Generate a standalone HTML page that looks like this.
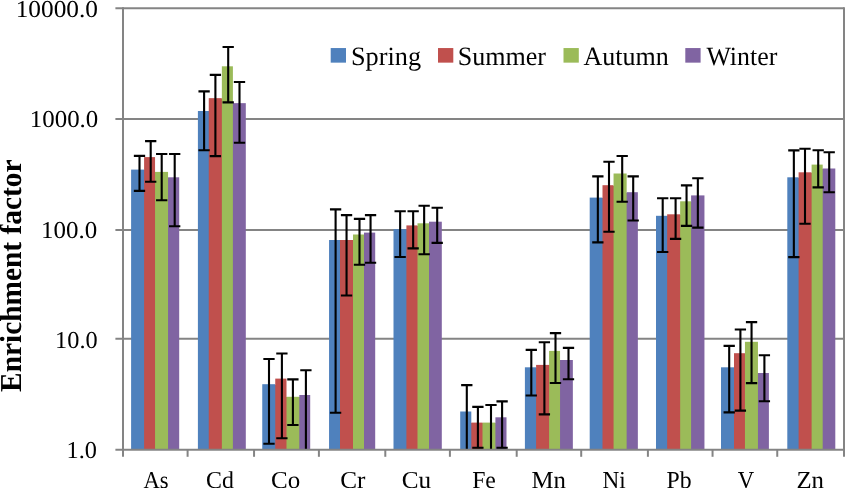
<!DOCTYPE html>
<html><head><meta charset="utf-8"><title>Enrichment factor chart</title>
<style>
html,body{margin:0;padding:0;background:#fff;}
body{width:845px;height:488px;overflow:hidden;position:relative;font-family:"Liberation Serif",serif;}
.wrap{position:absolute;left:0;top:0;width:845px;height:488px;will-change:transform;opacity:0.999;}
svg{display:block;}
.t{font-family:"Liberation Serif",serif;fill:#000;text-rendering:geometricPrecision;}
.b{font-family:"Liberation Serif",serif;font-weight:bold;fill:#000;text-rendering:geometricPrecision;}
</style></head><body>
<div class="wrap">
<svg width="845" height="488" viewBox="0 0 845 488">
<rect x="0" y="0" width="845" height="488" fill="#fff"/>
<g stroke="#848484" stroke-width="2.0" fill="none">
<line x1="115.40" y1="8.20" x2="844.00" y2="8.20"/>
<line x1="115.40" y1="118.95" x2="844.00" y2="118.95"/>
<line x1="115.40" y1="229.95" x2="844.00" y2="229.95"/>
<line x1="115.40" y1="338.75" x2="844.00" y2="338.75"/>
</g>
<rect x="144" y="170" width="1" height="279.70" fill="#4F81BD"/>
<rect x="155" y="172" width="1" height="277.70" fill="#C0504D"/>
<rect x="168" y="178" width="1" height="271.70" fill="#9BBB59"/>
<rect x="131.10" y="169.60" width="13.00" height="280.10" fill="#4F81BD"/>
<rect x="144.10" y="157.10" width="10.95" height="292.60" fill="#C0504D"/>
<rect x="155.05" y="171.90" width="13.00" height="277.80" fill="#9BBB59"/>
<rect x="168.05" y="177.30" width="11.15" height="272.40" fill="#8064A2"/>
<rect x="208" y="111" width="1" height="338.70" fill="#4F81BD"/>
<rect x="221" y="99" width="1" height="350.70" fill="#C0504D"/>
<rect x="232" y="104" width="1" height="345.70" fill="#9BBB59"/>
<rect x="197.90" y="111.00" width="10.85" height="338.70" fill="#4F81BD"/>
<rect x="208.75" y="98.15" width="13.10" height="351.55" fill="#C0504D"/>
<rect x="221.85" y="66.30" width="11.05" height="383.40" fill="#9BBB59"/>
<rect x="232.90" y="103.15" width="12.90" height="346.55" fill="#8064A2"/>
<rect x="275" y="385" width="1" height="64.70" fill="#4F81BD"/>
<rect x="286" y="397" width="1" height="52.70" fill="#C0504D"/>
<rect x="299" y="397" width="1" height="52.70" fill="#9BBB59"/>
<rect x="262.25" y="384.20" width="13.00" height="65.50" fill="#4F81BD"/>
<rect x="275.25" y="378.60" width="11.25" height="71.10" fill="#C0504D"/>
<rect x="286.50" y="396.80" width="12.80" height="52.90" fill="#9BBB59"/>
<rect x="299.30" y="395.00" width="10.90" height="54.70" fill="#8064A2"/>
<rect x="340" y="240" width="1" height="209.70" fill="#4F81BD"/>
<rect x="353" y="240" width="1" height="209.70" fill="#C0504D"/>
<rect x="364" y="235" width="1" height="214.70" fill="#9BBB59"/>
<rect x="329.05" y="240.00" width="10.95" height="209.70" fill="#4F81BD"/>
<rect x="340.00" y="240.00" width="13.00" height="209.70" fill="#C0504D"/>
<rect x="353.00" y="234.50" width="11.00" height="215.20" fill="#9BBB59"/>
<rect x="364.00" y="232.60" width="11.20" height="217.10" fill="#8064A2"/>
<rect x="406" y="230" width="1" height="219.70" fill="#4F81BD"/>
<rect x="417" y="226" width="1" height="223.70" fill="#C0504D"/>
<rect x="429" y="224" width="1" height="225.70" fill="#9BBB59"/>
<rect x="393.50" y="229.20" width="12.90" height="220.50" fill="#4F81BD"/>
<rect x="406.40" y="225.40" width="11.10" height="224.30" fill="#C0504D"/>
<rect x="417.50" y="223.30" width="11.50" height="226.40" fill="#9BBB59"/>
<rect x="429.00" y="221.70" width="12.80" height="228.00" fill="#8064A2"/>
<rect x="471" y="423" width="1" height="26.70" fill="#4F81BD"/>
<rect x="482" y="423" width="1" height="26.70" fill="#C0504D"/>
<rect x="495" y="423" width="1" height="26.70" fill="#9BBB59"/>
<rect x="460.20" y="411.50" width="11.10" height="38.20" fill="#4F81BD"/>
<rect x="471.30" y="422.60" width="11.20" height="27.10" fill="#C0504D"/>
<rect x="482.50" y="422.60" width="12.90" height="27.10" fill="#9BBB59"/>
<rect x="495.40" y="417.30" width="11.10" height="32.40" fill="#8064A2"/>
<rect x="536" y="368" width="1" height="81.70" fill="#4F81BD"/>
<rect x="549" y="365" width="1" height="84.70" fill="#C0504D"/>
<rect x="560" y="360" width="1" height="89.70" fill="#9BBB59"/>
<rect x="524.90" y="367.30" width="11.20" height="82.40" fill="#4F81BD"/>
<rect x="536.10" y="364.90" width="13.00" height="84.80" fill="#C0504D"/>
<rect x="549.10" y="350.90" width="10.95" height="98.80" fill="#9BBB59"/>
<rect x="560.05" y="360.00" width="12.80" height="89.70" fill="#8064A2"/>
<rect x="602" y="198" width="1" height="251.70" fill="#4F81BD"/>
<rect x="613" y="186" width="1" height="263.70" fill="#C0504D"/>
<rect x="626" y="193" width="1" height="256.70" fill="#9BBB59"/>
<rect x="589.70" y="197.60" width="12.80" height="252.10" fill="#4F81BD"/>
<rect x="602.50" y="185.20" width="11.05" height="264.50" fill="#C0504D"/>
<rect x="613.55" y="173.50" width="13.10" height="276.20" fill="#9BBB59"/>
<rect x="626.65" y="192.20" width="11.20" height="257.50" fill="#8064A2"/>
<rect x="667" y="216" width="1" height="233.70" fill="#4F81BD"/>
<rect x="680" y="215" width="1" height="234.70" fill="#C0504D"/>
<rect x="691" y="202" width="1" height="247.70" fill="#9BBB59"/>
<rect x="656.00" y="215.80" width="11.15" height="233.90" fill="#4F81BD"/>
<rect x="667.15" y="214.30" width="13.00" height="235.40" fill="#C0504D"/>
<rect x="680.15" y="201.30" width="10.95" height="248.40" fill="#9BBB59"/>
<rect x="691.10" y="195.40" width="13.35" height="254.30" fill="#8064A2"/>
<rect x="734" y="368" width="1" height="81.70" fill="#4F81BD"/>
<rect x="744" y="354" width="1" height="95.70" fill="#C0504D"/>
<rect x="757" y="373" width="1" height="76.70" fill="#9BBB59"/>
<rect x="721.00" y="367.30" width="13.00" height="82.40" fill="#4F81BD"/>
<rect x="734.00" y="353.20" width="10.95" height="96.50" fill="#C0504D"/>
<rect x="744.95" y="341.80" width="13.00" height="107.90" fill="#9BBB59"/>
<rect x="757.95" y="373.00" width="10.95" height="76.70" fill="#8064A2"/>
<rect x="798" y="178" width="1" height="271.70" fill="#4F81BD"/>
<rect x="811" y="173" width="1" height="276.70" fill="#C0504D"/>
<rect x="822" y="169" width="1" height="280.70" fill="#9BBB59"/>
<rect x="787.30" y="177.30" width="11.30" height="272.40" fill="#4F81BD"/>
<rect x="798.60" y="172.30" width="13.00" height="277.40" fill="#C0504D"/>
<rect x="811.60" y="164.60" width="11.10" height="285.10" fill="#9BBB59"/>
<rect x="822.70" y="168.50" width="12.60" height="281.20" fill="#8064A2"/>
<g stroke="#848484" stroke-width="2.0" fill="none">
<line x1="123.00" y1="7.20" x2="123.00" y2="456.80"/>
<line x1="844.00" y1="7.20" x2="844.00" y2="456.80"/>
<line x1="115.40" y1="449.70" x2="844.00" y2="449.70"/>
<line x1="187.60" y1="449.70" x2="187.60" y2="456.80"/>
<line x1="254.05" y1="449.70" x2="254.05" y2="456.80"/>
<line x1="318.90" y1="449.70" x2="318.90" y2="456.80"/>
<line x1="385.30" y1="449.70" x2="385.30" y2="456.80"/>
<line x1="449.90" y1="449.70" x2="449.90" y2="456.80"/>
<line x1="516.70" y1="449.70" x2="516.70" y2="456.80"/>
<line x1="581.20" y1="449.70" x2="581.20" y2="456.80"/>
<line x1="647.90" y1="449.70" x2="647.90" y2="456.80"/>
<line x1="712.55" y1="449.70" x2="712.55" y2="456.80"/>
<line x1="777.25" y1="449.70" x2="777.25" y2="456.80"/>
</g>
<g stroke="#000" stroke-width="2.1" fill="none">
<path d="M133.85 155.90H145.15M139.50 155.90V190.90M133.85 190.90H145.15"/>
<path d="M145.05 141.15H156.35M150.70 141.15V181.80M145.05 181.80H156.35"/>
<path d="M156.05 154.00H167.35M161.70 154.00V200.30M156.05 200.30H167.35"/>
<path d="M169.05 154.00H180.35M174.70 154.00V226.30M169.05 226.30H180.35"/>
<path d="M198.45 91.40H209.75M204.10 91.40V150.30M198.45 150.30H209.75"/>
<path d="M209.75 74.90H221.05M215.40 74.90V156.10M209.75 156.10H221.05"/>
<path d="M222.55 47.00H233.85M228.20 47.00V102.40M222.55 102.40H233.85"/>
<path d="M233.85 82.00H245.15M239.50 82.00V142.80M233.85 142.80H245.15"/>
<path d="M263.35 359.00H274.65M269.00 359.00V443.70M263.35 443.70H274.65"/>
<path d="M276.25 353.50H287.55M281.90 353.50V438.20M276.25 438.20H287.55"/>
<path d="M287.25 379.40H298.55M292.90 379.40V425.00M287.25 425.00H298.55"/>
<path d="M300.25 370.20H311.55M305.90 370.20V448.70"/>
<path d="M329.95 209.40H341.25M335.60 209.40V412.80M329.95 412.80H341.25"/>
<path d="M340.90 215.10H352.20M346.55 215.10V295.50M340.90 295.50H352.20"/>
<path d="M353.85 218.90H365.15M359.50 218.90V264.80M353.85 264.80H365.15"/>
<path d="M364.90 215.10H376.20M370.55 215.10V262.80M364.90 262.80H376.20"/>
<path d="M394.50 211.30H405.80M400.15 211.30V257.00M394.50 257.00H405.80"/>
<path d="M407.50 211.30H418.80M413.15 211.30V248.40M407.50 248.40H418.80"/>
<path d="M418.50 205.80H429.80M424.15 205.80V254.20M418.50 254.20H429.80"/>
<path d="M431.55 207.70H442.85M437.20 207.70V242.90M431.55 242.90H442.85"/>
<path d="M461.15 385.10H472.45M466.80 385.10V448.70"/>
<path d="M472.25 406.90H483.55M477.90 406.90V447.70M472.25 447.70H483.55"/>
<path d="M485.35 405.00H496.65M491.00 405.00V448.70"/>
<path d="M496.45 401.40H507.75M502.10 401.40V447.70M496.45 447.70H507.75"/>
<path d="M525.65 349.85H536.95M531.30 349.85V395.50M525.65 395.50H536.95"/>
<path d="M538.75 342.30H550.05M544.40 342.30V414.40M538.75 414.40H550.05"/>
<path d="M549.85 333.10H561.15M555.50 333.10V383.00M549.85 383.00H561.15"/>
<path d="M562.85 347.90H574.15M568.50 347.90V379.20M562.85 379.20H574.15"/>
<path d="M592.20 176.40H603.50M597.85 176.40V242.40M592.20 242.40H603.50"/>
<path d="M603.35 161.80H614.65M609.00 161.80V231.80M603.35 231.80H614.65"/>
<path d="M616.55 156.00H627.85M622.20 156.00V201.80M616.55 201.80H627.85"/>
<path d="M627.55 176.40H638.85M633.20 176.40V220.50M627.55 220.50H638.85"/>
<path d="M657.05 198.30H668.35M662.70 198.30V252.00M657.05 252.00H668.35"/>
<path d="M669.95 198.30H681.25M675.60 198.30V238.90M669.95 238.90H681.25"/>
<path d="M680.90 185.40H692.20M686.55 185.40V225.90M680.90 225.90H692.20"/>
<path d="M692.20 178.20H703.50M697.85 178.20V227.60M692.20 227.60H703.50"/>
<path d="M723.55 345.90H734.85M729.20 345.90V412.40M723.55 412.40H734.85"/>
<path d="M734.75 329.50H746.05M740.40 329.50V410.60M734.75 410.60H746.05"/>
<path d="M745.90 322.10H757.20M751.55 322.10V383.10M745.90 383.10H757.20"/>
<path d="M758.75 355.30H770.05M764.40 355.30V401.30M758.75 401.30H770.05"/>
<path d="M788.20 150.40H799.50M793.85 150.40V257.10M788.20 257.10H799.50"/>
<path d="M799.35 148.70H810.65M805.00 148.70V223.80M799.35 223.80H810.65"/>
<path d="M812.55 150.20H823.85M818.20 150.20V187.40M812.55 187.40H823.85"/>
<path d="M823.55 152.30H834.85M829.20 152.30V192.20M823.55 192.20H834.85"/>
</g>
<text transform="translate(15.67,17.00) scale(1.0432,1)" class="t" font-size="24.3">10000.0</text>
<text transform="translate(29.81,127.00) scale(1.0241,1)" class="t" font-size="24.3">1000.0</text>
<text transform="translate(41.10,238.00) scale(1.0269,1)" class="t" font-size="24.3">100.0</text>
<text transform="translate(55.05,348.00) scale(1.0012,1)" class="t" font-size="24.3">10.0</text>
<text transform="translate(66.56,458.00) scale(0.9999,1)" class="t" font-size="24.3">1.0</text>
<text transform="translate(143.50,488.00) scale(0.9279,1)" class="t" font-size="24.3">As</text>
<text transform="translate(206.04,488.00) scale(0.9837,1)" class="t" font-size="24.3">Cd</text>
<text transform="translate(271.00,488.00) scale(1.0279,1)" class="t" font-size="24.3">Co</text>
<text transform="translate(340.19,488.00) scale(1.0363,1)" class="t" font-size="24.3">Cr</text>
<text transform="translate(401.74,488.00) scale(1.0371,1)" class="t" font-size="24.3">Cu</text>
<text transform="translate(472.13,488.00) scale(0.9764,1)" class="t" font-size="24.3">Fe</text>
<text transform="translate(531.50,488.00) scale(1.0204,1)" class="t" font-size="24.3">Mn</text>
<text transform="translate(602.54,488.00) scale(0.9538,1)" class="t" font-size="24.3">Ni</text>
<text transform="translate(666.52,488.00) scale(0.9775,1)" class="t" font-size="24.3">Pb</text>
<text transform="translate(737.82,488.00) scale(0.9361,1)" class="t" font-size="24.3">V</text>
<text transform="translate(796.41,488.00) scale(1.0202,1)" class="t" font-size="24.3">Zn</text>
<rect x="330.70" y="48.05" width="15.3" height="14.6" fill="#4F81BD"/>
<text transform="translate(350.92,65.00) scale(0.9962,1)" class="t" font-size="26.4">Spring</text>
<rect x="438.00" y="48.05" width="15.3" height="14.6" fill="#C0504D"/>
<text transform="translate(457.74,65.00) scale(0.9875,1)" class="t" font-size="26.4">Summer</text>
<rect x="563.50" y="48.05" width="15.3" height="14.6" fill="#9BBB59"/>
<text transform="translate(583.40,65.00) scale(0.9853,1)" class="t" font-size="26.4">Autumn</text>
<rect x="685.30" y="48.05" width="15.3" height="14.6" fill="#8064A2"/>
<text transform="translate(706.50,65.00) scale(0.9798,1)" class="t" font-size="26.4">Winter</text>
<text transform="translate(20.9,391.89) rotate(-90) scale(0.9659,1)" class="b" font-size="30.4">Enrichment factor</text>
</svg>
</div>
</body></html>
